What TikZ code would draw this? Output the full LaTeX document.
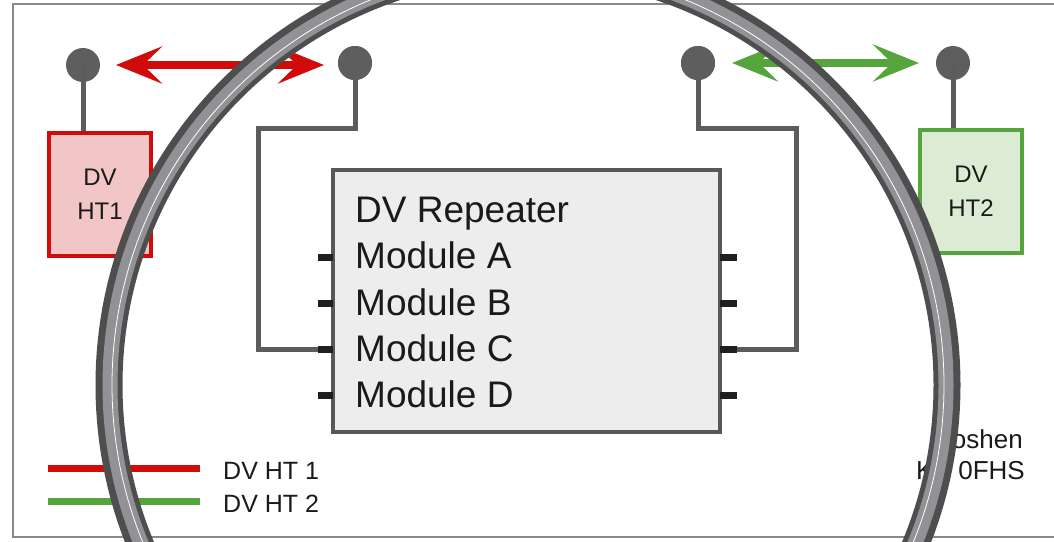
\documentclass[tikz,border=0pt]{standalone}
\usepackage{fontspec}
\setmainfont{Liberation Sans}
\usetikzlibrary{arrows.meta}
\definecolor{wiregray}{HTML}{5C5C5C}
\definecolor{ballgray}{HTML}{5E5E5E}
\definecolor{boxgray}{HTML}{585858}
\definecolor{boxfill}{HTML}{EDEDED}
\definecolor{textc}{HTML}{1A1A1A}
\definecolor{redc}{HTML}{D10A0A}
\definecolor{redfill}{HTML}{F2C6C6}
\definecolor{greenc}{HTML}{55A43C}
\definecolor{greenfill}{HTML}{DCEBD4}
\definecolor{framec}{HTML}{8A8A8A}
\definecolor{ringdark}{HTML}{4E4E4E}
\definecolor{ringmid}{HTML}{929296}
\begin{document}
\begin{tikzpicture}[x=1pt,y=-1pt,
  wire/.style={draw=wiregray, line width=5pt},
  ball/.style={circle, fill=ballgray, minimum size=34pt, inner sep=0pt},
  portbar/.style={draw=black!88, line width=7pt},
  modtext/.style={anchor=base west, inner sep=0pt, text=textc, font=\fontsize{37}{40}\selectfont},
  htbox/.style={line width=4pt, minimum width=102pt, minimum height=123pt, inner sep=0pt, align=center, text=textc, font=\fontsize{24}{34}\selectfont},
  legtext/.style={anchor=base west, inner sep=0pt, text=textc, font=\fontsize{25}{28}\selectfont},
  calltext/.style={inner sep=0pt, text=textc, font=\fontsize{26}{30}\selectfont},
  bigarrow/.style={line width=8pt, {Stealth[length=46pt,width=37pt,inset=19pt]}-{Stealth[length=46pt,width=37pt,inset=19pt]}},
  legline/.style={line width=7pt}
]
\useasboundingbox (0,0) rectangle (1054,541);
\clip (0,0) rectangle (1054,541);
\fill[white] (0,0) rectangle (1054,541);
\draw[framec, line width=2.5pt] (13,4) rectangle (1058,537);

% coordinates
\coordinate (kL) at (258,128);
\coordinate (kR) at (796,128);
\coordinate (pAL) at (333,257);
\coordinate (pBL) at (333,303);
\coordinate (pCL) at (333,349);
\coordinate (pDL) at (333,395);
\coordinate (pAR) at (720,257);
\coordinate (pBR) at (720,303);
\coordinate (pCR) at (720,349);
\coordinate (pDR) at (720,395);

% HT boxes
\node[htbox, draw=redc, fill=redfill] (ht1) at (100,194.5) {DV\\HT1};
\node[htbox, draw=greenc, fill=greenfill] (ht2) at (971,191) {DV\\HT2};

% antenna balls
\node[ball] (b1) at (83,65) {};
\node[ball] (b2) at (355,63) {};
\node[ball] (b3) at (698,63) {};
\node[ball] (b4) at (953,63) {};

% repeater box
\node[draw=boxgray, line width=4pt, fill=boxfill, minimum width=387pt, minimum height=262pt, inner sep=0pt] (rep) at (526.5,301) {};

% wires
\draw[wire] (b1.center) -- (b1.center |- ht1.north);
\draw[wire] (b4.center) -- (b4.center |- ht2.north);
\draw[wire] (b2.south) |- (kL) |- (pCL);
\draw[wire] (pCR) -| (kR) -| (b3.south);
\node[ball] at (b2) {};
\node[ball] at (b3) {};

% ports
\foreach \p in {pAL,pBL,pCL,pDL} \draw[portbar] (\p) -- ++(-15,0);
\foreach \p in {pAR,pBR,pCR,pDR} \draw[portbar] (\p) -- ++(17,0);

% repeater text
\node[modtext] (t0) at (355,222) {DV Repeater};
\node[modtext] (t1) at (355,268) {Module A};
\node[modtext] (t2) at (355,315) {Module B};
\node[modtext] (t3) at (355,361) {Module C};
\node[modtext] (t4) at (355,407) {Module D};

% arrows
\coordinate (ra) at (116,65);
\coordinate (rb) at (324,65);
\coordinate (ga) at (732,63);
\coordinate (gb) at (919,63);
\draw[bigarrow, redc] (ra) -- (rb);
\draw[bigarrow, greenc] (ga) -- (gb);

% legend
\coordinate (l1a) at (48,468);
\coordinate (l1b) at (200,468);
\coordinate (l2a) at (48,501);
\coordinate (l2b) at (200,501);
\draw[legline, redc] (l1a) -- (l1b);
\draw[legline, greenc] (l2a) -- (l2b);
\node[legtext] (lt1) at (223,479) {DV HT 1};
\node[legtext] (lt2) at (223,512) {DV HT 2};

% call sign (partly hidden by the lens ring)
\node[calltext, anchor=base east] (c1) at (1023,448) {oshen};
\node[calltext, anchor=base east] (c2) at (1025,479) {0FHS};
\node[calltext, anchor=base west] (c3) at (916,479) {K};

% magnifier ring
\draw[ringdark, line width=27pt] (528,385) circle[radius=419pt];
\draw[ringmid, line width=15pt] (528,385) circle[radius=418pt];
\draw[white, line width=0.8pt] (528,385) circle[radius=416pt];
\end{tikzpicture}
\end{document}
